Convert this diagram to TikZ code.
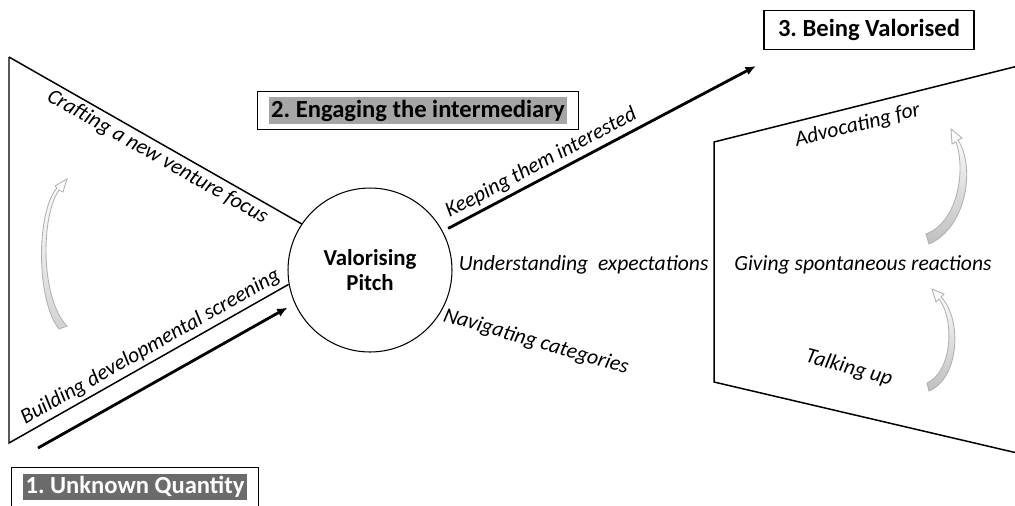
\documentclass[tikz,border=0pt]{standalone}
\usepackage{fontspec}
\setmainfont{Carlito}
\usetikzlibrary{arrows.meta}
\definecolor{hlgray}{HTML}{A6A6A6}
\definecolor{hldark}{HTML}{6B6B6B}
\setlength{\fboxsep}{1.5pt}
\frenchspacing
\tikzstyle{phasebox} = [draw=black, fill=white, line width=0.7pt, rectangle,
    inner xsep=6.5pt, inner ysep=3.4pt, font=\fontsize{14}{16}\selectfont\bfseries]
\tikzstyle{pitchcircle} = [draw=black, circle, line width=0.6pt, minimum size=3.28cm,
    align=center, font=\fontsize{13}{14.5}\selectfont\bfseries]
\tikzstyle{movelabel} = [font=\fontsize{12.3}{14}\selectfont\itshape, inner sep=2pt]
\tikzstyle{frame} = [line width=0.85pt]
\tikzstyle{phasearrow} = [line width=1.6pt, -{Latex[length=6pt,width=5pt]}]
\tikzstyle{cyclearrow} = [draw=gray!60, line width=0.5pt, top color=white, bottom color=gray!50]

\begin{document}
\begin{tikzpicture}[x=0.02cm, y=-0.02cm]
\path[use as bounding box, clip] (0,0) rectangle (1015,505);

\node[pitchcircle] (pitch) at (370,270) {Valorising\\Pitch};

% left wedge
\coordinate (lt) at (9,57);
\coordinate (lb) at (9,443);
\draw[frame] (lt) -- node[movelabel, sloped, below, pos=0.53] {Crafting a new venture focus} (pitch.146);
\draw[frame] (lt) -- (lb) -- node[movelabel, sloped, above, pos=0.53] {Building developmental screening} (pitch.190);
\path[cyclearrow, bottom color=gray!35] (59,329) .. controls (36,300) and (36,212) .. (57,188)
    -- (55,186) -- (67,179) -- (63,192) -- (59,190)
    .. controls (41,215) and (40,298) .. (67,326) -- cycle;

% right side
\coordinate (qt) at (714,142);
\coordinate (qb) at (714,382);
\coordinate (qtr) at (1030,63);
\coordinate (qbr) at (1030,456);
\draw[frame] (qbr) -- (qb) -- (qt) -- node[movelabel, sloped, below=3pt, pos=0.44] {Advocating for} (qtr);
\node[movelabel] (spont) at (863,265) {Giving spontaneous reactions};
\node[movelabel, rotate=-15] (talk) at (849,368) {Talking up};
\path[cyclearrow] (929,244) .. controls (966,228) and (976,168) .. (958,140)
    -- (962,138) -- (951,129) -- (952,144) -- (956,142)
    .. controls (966,170) and (958,222) .. (926,234) -- cycle;
\path[cyclearrow] (929,391) .. controls (960,378) and (962,318) .. (941,297)
    -- (944,294) -- (932,289) -- (936,302) -- (939,299)
    .. controls (955,320) and (952,372) .. (927,383) -- cycle;

% moves of the intermediary
\node[movelabel, anchor=west] (expect) at (455,265) {Understanding~ expectations};
\node[movelabel, rotate=-16] (categ) at (536,342) {Navigating categories};

% phases
\node[phasebox] (valorised) at (869,30) {\colorbox{white}{3. Being Valorised}};
\node[phasebox] (engaging) at (418,110.5) {\colorbox{hlgray}{2. Engaging the intermediary}};
\node[phasebox] (unknown) at (135,487) {\colorbox{hldark}{\color{white}1. Unknown Quantity}};

\coordinate (us) at (38,448);
\coordinate (vt) at (756,66);
\draw[phasearrow, shorten >=1.6mm] (us) -- (pitch.204);
\draw[phasearrow, shorten <=1.2mm] (pitch.28) -- node[movelabel, sloped, above, pos=0.335] {Keeping them interested} (vt);
\end{tikzpicture}
\end{document}
